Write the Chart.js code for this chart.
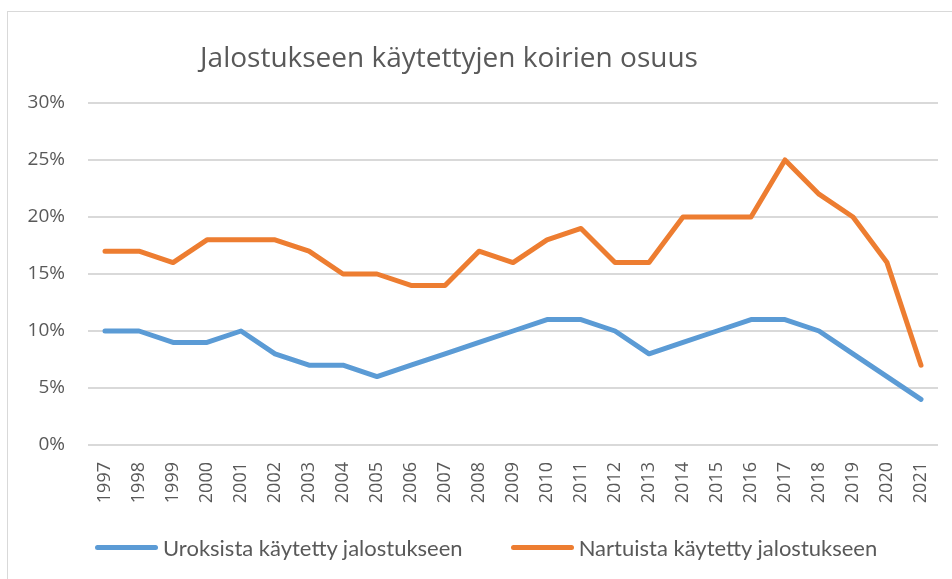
<!DOCTYPE html>
<html lang="fi">
<head>
<meta charset="utf-8">
<title>Jalostukseen käytettyjen koirien osuus</title>
<script src="https://cdn.jsdelivr.net/npm/chart.js@4/dist/chart.umd.min.js"></script>
<style>
    html, body { margin: 0; padding: 0; background: #fff; }
    #wrap { position: relative; width: 952px; height: 579px; overflow: hidden; }
    #frame { position: absolute; left: 7px; top: 11px; width: 980px; height: 600px; border: 1px solid #d9d9d9; box-sizing: border-box; }
    #canvasBox { position: absolute; left: 0; top: 0; width: 952px; height: 579px; }
    #title { position: absolute; left: 0; width: 898px; top: 37px; text-align: center;
             font-family: "Open Sans", sans-serif; font-size: 28px; color: #595959; white-space: nowrap; }
    #legend { position: absolute; top: 534px; left: 95px; display: flex; align-items: center;
              font-family: Lato, sans-serif; font-size: 22px; color: #595959; white-space: nowrap; }
    .item { display: flex; align-items: center; margin-right: 48px; }
    .swatch { width: 63px; height: 5px; border-radius: 3px; margin-right: 5px; }
</style>
</head>
<body>
<div id="wrap">
    <div id="frame"></div>
    <div id="canvasBox"><canvas id="shareChart"></canvas></div>
    <div id="title">Jalostukseen käytettyjen koirien osuus</div>
    <div id="legend"></div>
</div>
<script>
// Data (percent)
const years = ['1997', '1998', '1999', '2000', '2001', '2002', '2003', '2004', '2005', '2006', '2007', '2008', '2009',
    '2010', '2011', '2012', '2013', '2014', '2015', '2016', '2017', '2018', '2019', '2020', '2021'];
const males = [10, 10, 9, 9, 10, 8, 7, 7, 6, 7, 8, 9, 10, 11, 11, 10, 8, 9, 10, 11, 11, 10, 8, 6, 4];
const females = [17, 17, 16, 18, 18, 18, 17, 15, 15, 14, 14, 17, 16, 18, 19, 16, 16, 20, 20, 20, 25, 22, 20, 16, 7];
const seriesNames = ['Uroksista käytetty jalostukseen', 'Nartuista käytetty jalostukseen'];
const yTicks = [0, 5, 10, 15, 20, 25, 30];

const colors = ['#5b9bd5', '#ed7d31'];
const textColor = '#595959';

function lineSet(label, data, color) {
    return {
        label: label,
        data: data,
        borderColor: color,
        backgroundColor: color,
        borderWidth: 5,
        borderCapStyle: 'round',
        borderJoinStyle: 'round',
        pointRadius: 0,
        tension: 0,
        fill: false
    };
}

new Chart(document.getElementById('shareChart'), {
    type: 'line',
    data: {
        labels: years,
        datasets: [
            lineSet(seriesNames[0], males, colors[0]),
            lineSet(seriesNames[1], females, colors[1])
        ]
    },
    options: {
        responsive: true,
        maintainAspectRatio: false,
        animation: false,
        layout: {
            padding: { top: 103, right: 14, bottom: 0, left: 0 }
        },
        plugins: {
            legend: { display: false },
            tooltip: { enabled: false }
        },
        scales: {
            x: {
                offset: true,
                grid: { display: false, drawTicks: false },
                border: { display: false },
                ticks: {
                    color: textColor,
                    font: { family: 'Open Sans', size: 18 },
                    minRotation: 90,
                    maxRotation: 90,
                    autoSkip: false,
                    padding: 17
                },
                afterFit: function (scale) {
                    scale.height = 134;
                    scale.paddingRight = 0;
                }
            },
            y: {
                min: yTicks[0],
                max: yTicks[yTicks.length - 1],
                afterBuildTicks: function (scale) {
                    scale.ticks = yTicks.map(v => ({ value: v }));
                },
                grid: { color: '#d9d9d9', lineWidth: 2, drawTicks: false },
                border: { display: false },
                ticks: {
                    color: textColor,
                    font: { family: 'Open Sans', size: 19 },
                    padding: 23,
                    callback: function (value) {
                        return value + '%';
                    }
                },
                afterFit: function (scale) {
                    scale.width = 88;
                }
            }
        }
    }
});

// Legend below the chart
const legendEl = document.getElementById('legend');
seriesNames.forEach(function (name, i) {
    const item = document.createElement('div');
    item.className = 'item';
    const sw = document.createElement('span');
    sw.className = 'swatch';
    sw.style.background = colors[i];
    const txt = document.createElement('span');
    txt.textContent = name;
    item.appendChild(sw);
    item.appendChild(txt);
    legendEl.appendChild(item);
});
</script>
</body>
</html>
